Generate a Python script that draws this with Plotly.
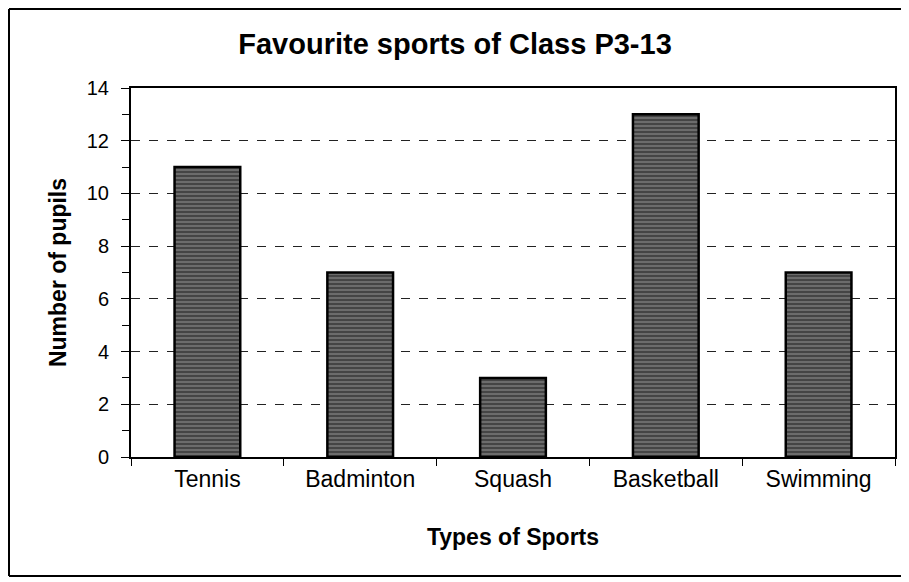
import plotly.graph_objects as go

sports = ["Tennis", "Badminton", "Squash", "Basketball", "Swimming"]
pupils = [11, 7, 3, 13, 7]
y_ticks = [0, 2, 4, 6, 8, 10, 12, 14]

# page body adds an 8px offset, so the figure is drawn 8px smaller
OFF = 8
W, H = 909 - OFF, 582 - OFF
L, R, T, B = 131 - OFF, W - (895 - OFF), 88 - OFF, H - (457 - OFF)
pw, ph = W - L - R, H - T - B

def px(x):
    return (x - OFF - L) / pw

def py(y):
    return (H - B - (y - OFF)) / ph

fig = go.Figure(go.Bar(
    x=sports, y=pupils, width=0.43,
    marker=dict(color="#454545",
                line=dict(color="black", width=2.5),
                pattern=dict(shape="-", fgcolor="#c8c8c8", size=4,
                             solidity=0.3, fillmode="overlay")),
    showlegend=False,
))

font = "Liberation Sans, Arial, sans-serif"
fig.update_layout(
    width=W, height=H,
    margin=dict(l=L, r=R, t=T, b=B, autoexpand=False),
    paper_bgcolor="white", plot_bgcolor="white",
    title=dict(text="<b>Favourite sports of Class P3-13</b>", x=(455 - OFF) / W, xanchor="center",
               y=1 - (44 - OFF) / H, yanchor="middle",
               font=dict(family=font, size=29, color="black")),
    font=dict(family=font, color="black"),
)
fig.update_xaxes(
    automargin=False,
    title=dict(text="<b>Types of Sports</b>", font=dict(size=23), standoff=38),
    tickfont=dict(size=23), ticks="outside", tickson="boundaries", ticklen=7,
    tickcolor="black", showline=True, linecolor="black", linewidth=2, mirror=True,
    showgrid=False,
)
fig.update_yaxes(
    automargin=False,
    title=dict(text="<b>Number of pupils</b>", font=dict(size=23), standoff=14),
    range=[0, 14], tickvals=y_ticks, tickfont=dict(size=20),
    ticks="outside", ticklen=8, tickcolor="black", ticklabelstandoff=8,
    minor=dict(dtick=1, ticks="outside", ticklen=7, tickcolor="black", showgrid=False),
    showline=True, linecolor="black", linewidth=2, mirror=True,
    showgrid=True, gridcolor="#222", gridwidth=1, griddash="dash",
    zeroline=False,
)
# outer frame: left, top and bottom edges (right edge runs off the page)
frame_line = dict(color="black", width=2)
fig.add_shape(type="line", xref="paper", yref="paper",
              x0=px(9), x1=px(9), y0=py(576), y1=py(9), line=frame_line)
fig.add_shape(type="line", xref="paper", yref="paper",
              x0=px(9), x1=px(915), y0=py(9), y1=py(9), line=frame_line)
fig.add_shape(type="line", xref="paper", yref="paper",
              x0=px(9), x1=px(915), y0=py(576), y1=py(576), line=frame_line)

fig.write_html("out.html")
